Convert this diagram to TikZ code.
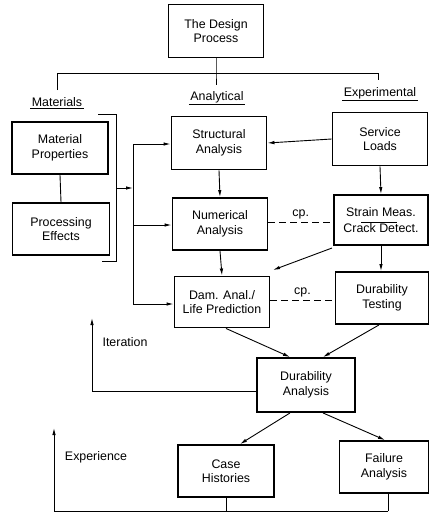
\documentclass[tikz,border=0pt]{standalone}
\usepackage{fontspec}
\setmainfont{Liberation Sans}
\usetikzlibrary{arrows.meta,calc}
\begin{document}
\begin{tikzpicture}[x=1pt,y=-1pt,
  box/.style={draw,line width=1.9pt,inner sep=0pt,align=center,font=\fontsize{12.4}{14.5}\selectfont},
  lab/.style={inner sep=1.5pt,font=\fontsize{12.4}{14.5}\selectfont},
  con/.style={line width=0.9pt},
  arr/.style={con,-{Latex[length=7pt,width=3.5pt]}},
  dsh/.style={con,dash pattern=on 7pt off 4pt}]
\useasboundingbox (0,0) rectangle (430,515);
% boxes
\node[box,minimum width=95pt,minimum height=53pt] (design) at (216,31) {The Design\\Process};
\node[box,minimum width=96pt,minimum height=52pt] (matprop) at (60,148) {Material\\Properties};
\node[box,minimum width=97pt,minimum height=52pt] (proc) at (61,229) {Processing\\Effects};
\node[box,minimum width=95pt,minimum height=53pt] (struct) at (219,143) {Structural\\Analysis};
\node[box,minimum width=95pt,minimum height=53pt] (service) at (380,139) {Service\\Loads};
\node[box,minimum width=95pt,minimum height=52pt] (numer) at (220,224) {Numerical\\Analysis};
\node[box,minimum width=94pt,minimum height=50pt] (strain) at (381,220) {Strain Meas.\\[2pt]Crack Detect.};
\node[box,minimum width=95pt,minimum height=51pt] (dam) at (222,302) {Dam. Anal./\\Life Prediction};
\node[box,minimum width=93pt,minimum height=52pt] (durtest) at (382,298) {Durability\\Testing};
\node[box,minimum width=98pt,minimum height=54pt] (duran) at (306,385) {Durability\\Analysis};
\node[box,minimum width=96pt,minimum height=52pt] (case) at (226,471) {Case\\Histories};
\node[box,minimum width=89pt,minimum height=52pt] (failure) at (384,467) {Failure\\Analysis};
% line inside strain box
\draw[con] (361,222) -- (397,222);
% labels
\node[lab] (lmat) at (57,102) {Materials};
\node[lab] (lana) at (217,97) {Analytical};
\node[lab] (lexp) at (380,93) {Experimental};
\draw[con] (lmat.south west) -- (lmat.south east);
\draw[con] (lana.south west) -- (lana.south east);
\draw[con] (lexp.south west) -- (lexp.south east);
\node[lab] (iter) at (125,342) {Iteration};
\node[lab] (exper) at (96,457) {Experience};
% tree at top
\coordinate (tl) at (57,73);
\coordinate (tm) at (216,73);
\coordinate (tr) at (378,73);
\draw[con] (design.south) -- (tm) -- (216,85);
\draw[con] (57,90) -- (tl) -- (tr) -- (378,80);
% bracket
\coordinate (b1) at (98,114);
\coordinate (b2) at (116,114);
\coordinate (b3) at (116,261);
\coordinate (b4) at (102,261);
\draw[con] (b1) -- (b2) -- (b3) -- (b4);
\coordinate (bm) at (116,188);
\coordinate (vm) at (133,188);
\draw[arr] (bm) -- (vm);
\coordinate (vt) at (133,144);
\coordinate (vn) at (133,225);
\coordinate (vb) at (133,304);
\draw[con] (vt) -- (vb);
\draw[arr] (vt) -- (struct.west |- vt);
\draw[arr] (vn) -- (numer.west |- vn);
\draw[arr] (vb) -- (dam.west |- vb);
% matprop - proc
\draw[con] (matprop.south) -- (proc.north);
% main arrows
\draw[arr] (service.west) -- (struct.east);
\draw[arr] (struct.south) -- (numer.north);
\draw[arr] (numer.south) -- (dam.north);
\draw[arr] (service.south) -- (strain.south |- strain.north);
\draw[arr] (strain.south) -- (strain.south |- durtest.north);
\coordinate (s1) at (332,248);
\coordinate (s2) at (273,270);
\draw[arr] (s1) -- (s2);
\coordinate (d1) at (0,222);
\coordinate (d2) at (0,300);
\draw[dsh] (numer.east |- d1) -- node[lab,above=1pt] {cp.} (strain.west |- d1);
\draw[dsh] (dam.east |- d2) -- node[lab,above=1pt] {cp.} (durtest.west |- d2);
\draw[arr] ($(dam.south)+(4,0)$) -- ($(duran.north)+(-16,0)$);
\draw[arr] ($(durtest.south)+(-3,0)$) -- ($(duran.north)+(17,0)$);
% iteration
\coordinate (i1) at (92,391);
\coordinate (i2) at (92,318);
\draw[arr] (duran.west |- i1) -- (i1) -- (i2);
% durability analysis outputs
\draw[arr] ($(duran.south)+(-16,0)$) -- ($(case.north)+(14,0)$);
\draw[arr] ($(duran.south)+(17,0)$) -- ($(failure.north)+(1,0)$);
% experience
\coordinate (e2) at (388,511);
\coordinate (e3) at (54,511);
\coordinate (e4) at (54,428);
\draw[con] (case.south) -- (case.south |- e2);
\draw[con] (failure.south -| e2) -- (e2);
\draw[arr] (e2) -- (e3) -- (e4);
\end{tikzpicture}
\end{document}
